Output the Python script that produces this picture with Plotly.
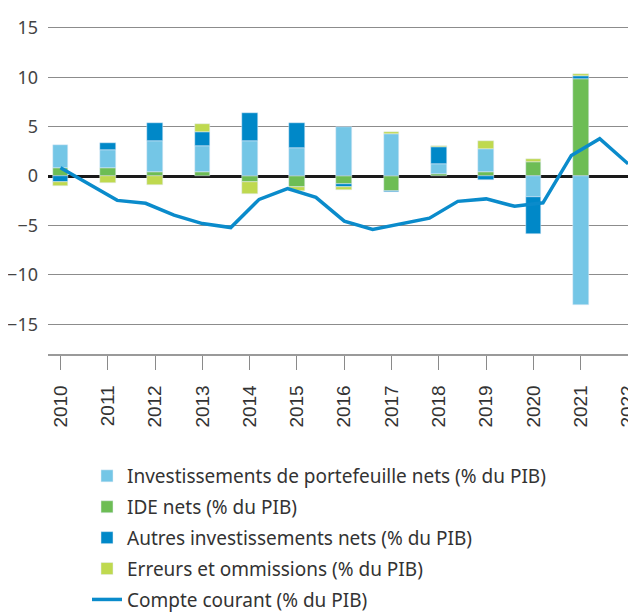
import plotly.graph_objects as go

years = ["2010", "2011", "2012", "2013", "2014", "2015", "2016",
         "2017", "2018", "2019", "2020", "2021", "2022"]

portefeuille = [2.36, 1.79, 3.11, 2.64, 3.51, 2.90, 4.96, 4.25, 1.04, 2.37, -2.09, -13.09, None]
ide = [0.84, 0.84, 0.40, 0.40, -0.59, -1.12, -0.78, -1.52, 0.24, 0.40, 1.42, 9.85, None]
autres = [-0.61, 0.74, 1.89, 1.48, 2.90, 2.50, -0.35, -0.10, 1.65, -0.38, -3.74, 0.27, None]
erreurs = [-0.40, -0.74, -0.91, 0.78, -1.19, -0.42, -0.22, 0.27, 0.17, 0.74, 0.33, 0.27, None]

# current account: 21 points spread evenly from 2010 to 2022
compte_courant = [0.85, -0.80, -2.45, -2.75, -3.95, -4.80, -5.20, -2.35, -1.25, -2.15,
                  -4.55, -5.40, -4.85, -4.25, -2.55, -2.30, -3.05, -2.70, 2.10, 3.80, 1.25]
cc_points = list(range(len(compte_courant)))

labels = {
    "pf": "Investissements de portefeuille nets (% du PIB)",
    "ide": "IDE nets (% du PIB)",
    "au": "Autres investissements nets (% du PIB)",
    "er": "Erreurs et ommissions (% du PIB)",
    "cc": "Compte courant (% du PIB)",
}
colors = {"pf": "#74C6E6", "ide": "#6DBD55", "au": "#0088C8", "er": "#BFD94F", "cc": "#0A8BCB"}

FONT = "Noto Sans"
BAR_W = 0.33

fig = go.Figure()
fig.add_bar(x=years, y=ide, name=labels["ide"], marker_color=colors["ide"], width=BAR_W,
            legendrank=2, legendgroup="ide")
fig.add_bar(x=years, y=portefeuille, name=labels["pf"], marker_color=colors["pf"], width=BAR_W,
            legendrank=1, legendgroup="pf")
fig.add_bar(x=years, y=autres, name=labels["au"], marker_color=colors["au"], width=BAR_W,
            legendrank=3, legendgroup="au")
fig.add_bar(x=years, y=erreurs, name=labels["er"], marker_color=colors["er"], width=BAR_W,
            legendrank=4, legendgroup="er")
fig.add_scatter(x=cc_points, y=compte_courant, name=labels["cc"], mode="lines",
                line=dict(color=colors["cc"], width=3.5), xaxis="x2",
                legendrank=5, legendgroup="cc")

# the page places the figure 8px from the top-left corner of the window
OFF = 8
W, H = 636 - OFF, 614 - OFF
L, R, T = 48 - OFF, 0, 25 - OFF
y_lo, y_hi = -18.0, 15.3
px_per_unit = 9.88
plot_h = (y_hi - y_lo) * px_per_unit
B = H - T - plot_h
x_lo, x_hi = -0.264, 12.167
step = (len(years) - 1) / (len(compte_courant) - 1)

fig.update_layout(
    width=W, height=H,
    margin=dict(l=L, r=R, t=T, b=B, pad=0, autoexpand=False),
    barmode="relative",
    bargap=0,
    plot_bgcolor="white", paper_bgcolor="white",
    font=dict(family=FONT, color="#333333"),
    xaxis=dict(
        type="category", range=[x_lo, x_hi], showgrid=False, automargin=False,
        showline=True, linecolor="#9a9a9a", linewidth=1.5,
        ticks="outside", ticklen=14, tickcolor="#8a8a8a", tickwidth=1,
        tickangle=-90, tickfont=dict(family="Liberation Sans", size=19, color="#333333"),
        ticklabelstandoff=8, zeroline=False,
    ),
    xaxis2=dict(overlaying="x", range=[x_lo / step, x_hi / step], visible=False),
    yaxis=dict(
        range=[y_lo, y_hi], tickvals=[-15, -10, -5, 0, 5, 10, 15], automargin=False,
        ticktext=["\u221215", "\u221210", "\u22125", "0", "5", "10", "15"],
        showgrid=True, gridcolor="#8c8c8c", gridwidth=1,
        zeroline=True, zerolinecolor="#1a1a1a", zerolinewidth=2.5,
        tickfont=dict(family=FONT, size=18, color="#444444"),
        ticklabelstandoff=9, showline=False,
    ),
    showlegend=True,
    legend=dict(
        orientation="v", x=(87 - OFF - L) / (W - L - R), xanchor="left",
        y=-(457 - OFF - (T + plot_h)) / plot_h, yanchor="top",
        font=dict(family=FONT, size=19, color="#333333"),
        bgcolor="rgba(0,0,0,0)", itemwidth=30, tracegroupgap=3.2,
    ),
)

fig.write_html("out.html")
